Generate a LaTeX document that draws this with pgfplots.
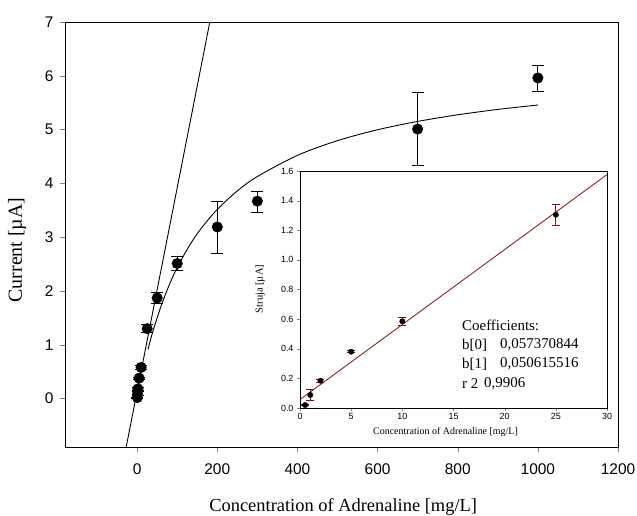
\documentclass[border=0pt]{standalone}
\usepackage{fontspec}
\setmainfont{Liberation Serif}
\setsansfont{Liberation Sans}
\usepackage{pgfplots}
\pgfplotsset{compat=1.18}
\definecolor{maroon}{RGB}{120,20,20}
\begin{document}
\begin{tikzpicture}
\useasboundingbox (0,0) rectangle (637bp,516bp);
\begin{axis}[
  at={(65bp,69bp)}, anchor=south west,
  scale only axis, width=553bp, height=425bp,
  xmin=-180, xmax=1200, ymin=-0.9, ymax=7,
  xtick={0,200,...,1200}, ytick={0,1,...,7},
  tick align=outside, tick pos=left,
  major tick length=5bp,
  axis line style={line width=0.8pt},
  /pgf/number format/assume math mode=true,
  /pgf/number format/1000 sep={},
  ticklabel style={font=\sffamily\fontsize{15.5}{18}\selectfont},
  xticklabel style={yshift=-8bp},
  yticklabel style={xshift=-3bp},
  xlabel={Concentration of Adrenaline [mg/L]},
  ylabel={Current [µA]},
  every axis x label/.style={at={(axis description cs:0.503,-0.141)}, anchor=center, font=\fontsize{18.5}{22}\selectfont},
  every axis y label/.style={at={(axis description cs:-0.0868,0.4635)}, rotate=90, anchor=center, font=\fontsize{20}{24}\selectfont},
  clip=true,
]
\addplot[black, line width=0.9pt] coordinates {(-27.3,-0.9) (181.4,7)};
\addplot[black, line width=0.9pt, smooth] coordinates {
(27,0.914) (40,1.266) (60,1.726) (80,2.110) (100,2.435) (130,2.838) (160,3.165)
(200,3.517) (250,3.860) (300,4.128) (400,4.521) (500,4.795) (600,4.997)
(700,5.152) (800,5.275) (900,5.375) (1000,5.457)};
\addplot[black, only marks, mark=*, mark size=5.3pt,
  error bars/.cd, y dir=both, y explicit,
  error mark options={rotate=90, mark size=6bp, line width=0.9pt},
  error bar style={line width=0.9pt}]
coordinates {
(0.5,0.02) +- (0,0.01)
(1,0.09) +- (0,0.04)
(2,0.18) +- (0,0.02)
(5,0.38) +- (0,0.02)
(10,0.58) +- (0,0.04)
(25,1.30) +- (0,0.07)
(50,1.87) +- (0,0.10)
(100,2.51) +- (0,0.13)
(200,3.19) += (0,0.47) -= (0,0.50)
(300,3.67) += (0,0.18) -= (0,0.21)
(700,5.01) += (0,0.68) -= (0,0.68)
(1000,5.96) += (0,0.23) -= (0,0.26)
};
\end{axis}
\begin{axis}[
  at={(300bp,108bp)}, anchor=south west,
  scale only axis, width=307bp, height=237bp,
  xmin=0, xmax=30, ymin=0, ymax=1.6,
  xtick={0,5,...,30}, ytick={0,0.2,...,1.6},
  tick align=outside, tick pos=left,
  major tick length=3bp,
  axis background/.style={fill=white},
  axis line style={line width=0.7pt},
  /pgf/number format/assume math mode=true,
  ticklabel style={font=\sffamily\fontsize{9}{10}\selectfont},
  yticklabel={\pgfmathprintnumber[fixed,fixed zerofill,precision=1]{\tick}},
  xticklabel style={yshift=1bp},
  xlabel={Concentration of Adrenaline [mg/L]},
  ylabel={Struja [µA]},
  every axis x label/.style={at={(axis description cs:0.474,-0.101)}, anchor=center, font=\fontsize{10}{12}\selectfont},
  every axis y label/.style={at={(axis description cs:-0.130,0.502)}, rotate=90, anchor=center, font=\fontsize{10.5}{12}\selectfont},
]
\addplot[maroon, line width=0.8pt] coordinates {(0,0.0574) (30,1.5759)};
\addplot[black, only marks, mark=*, mark size=2.7pt,
  error bars/.cd, y dir=both, y explicit,
  error mark options={rotate=90, mark size=4bp, line width=0.8pt, maroon},
  error bar style={line width=0.8pt, maroon}]
coordinates {
(0.5,0.02) +- (0,0.005)
(1,0.088) +- (0,0.04)
(2,0.184) +- (0,0.012)
(5,0.38) +- (0,0.008)
(10,0.585) +- (0,0.03)
(25,1.305) +- (0,0.07)
};
\node[anchor=west, font=\fontsize{15}{18}\selectfont, inner sep=0pt] at (axis cs:15.83,0.56) {Coefficients:};
\node[anchor=west, font=\fontsize{15}{18}\selectfont, inner sep=0pt] at (axis cs:15.83,0.425) {b[0]};
\node[anchor=west, font=\fontsize{15}{18}\selectfont, inner sep=0pt] at (axis cs:19.54,0.425) {0,057370844};
\node[anchor=west, font=\fontsize{15}{18}\selectfont, inner sep=0pt] at (axis cs:15.83,0.297) {b[1]};
\node[anchor=west, font=\fontsize{15}{18}\selectfont, inner sep=0pt] at (axis cs:19.54,0.297) {0,050615516};
\node[anchor=west, font=\fontsize{15}{18}\selectfont, inner sep=0pt] at (axis cs:15.83,0.162) {r 2};
\node[anchor=west, font=\fontsize{15}{18}\selectfont, inner sep=0pt] at (axis cs:17.98,0.162) {0,9906};
\end{axis}
\end{tikzpicture}
\end{document}
